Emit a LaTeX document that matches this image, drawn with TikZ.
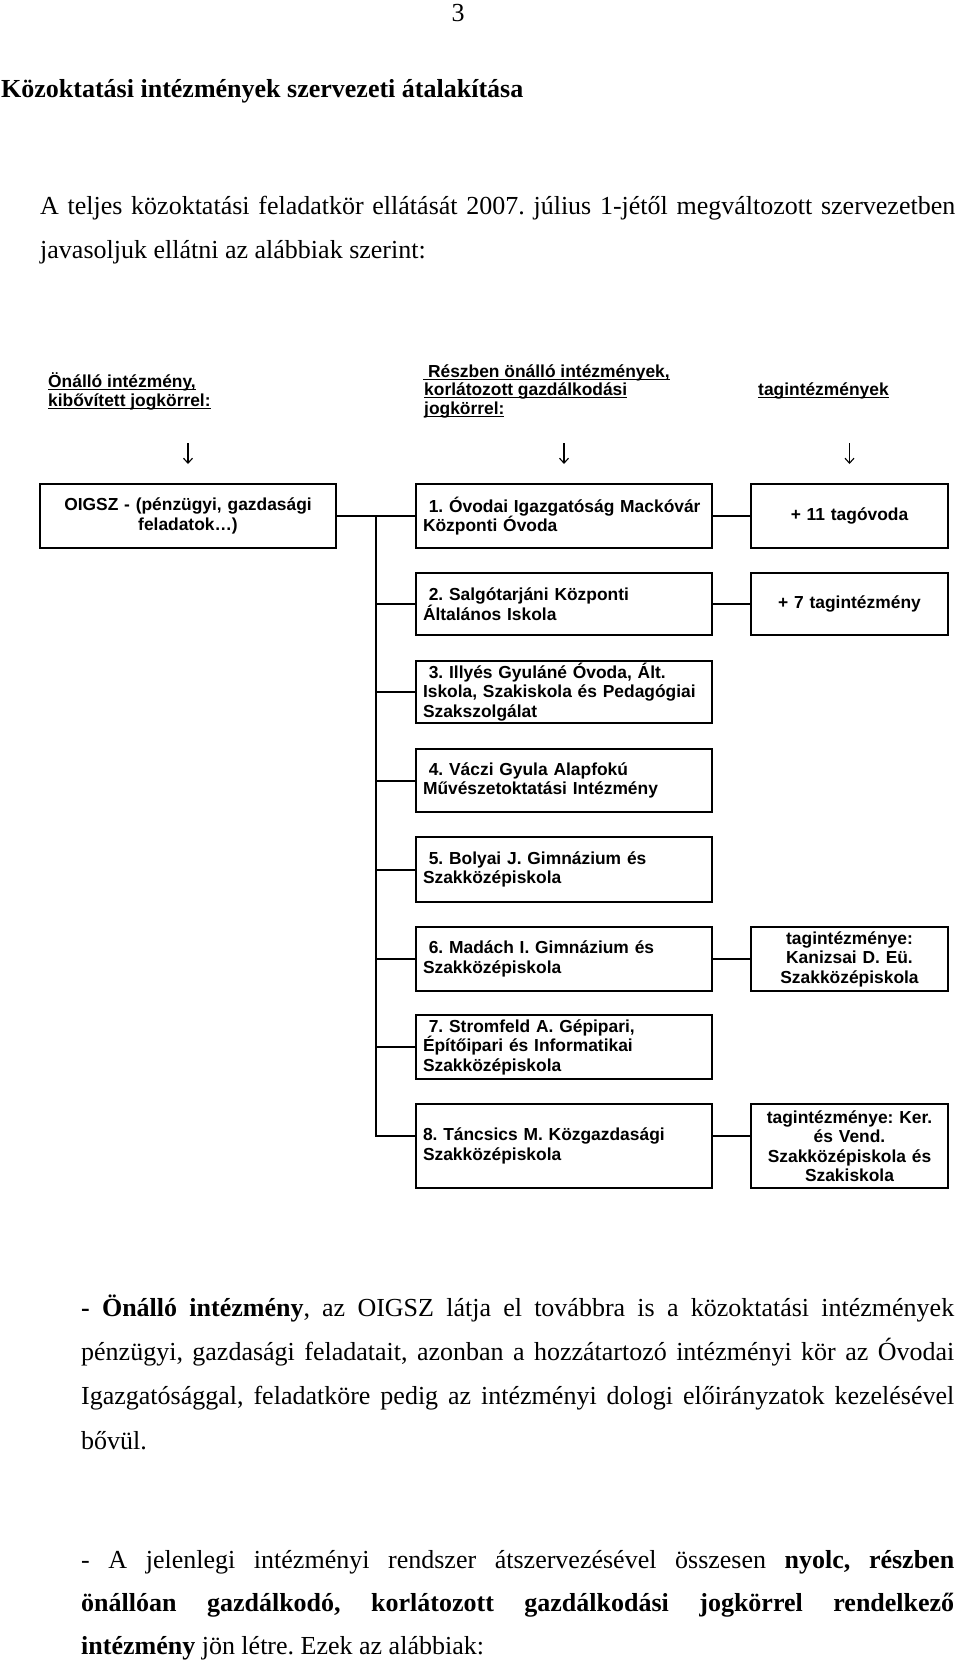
\documentclass[tikz,border=0pt]{standalone}
\usepackage{fontspec}
\setmainfont{Liberation Serif}
\newfontfamily\arialf{Liberation Sans}
\usetikzlibrary{arrows.meta,calc}
\newcommand\ulx[1]{\setbox0=\hbox{#1}\rlap{\rule[-3pt]{\wd0}{1.5pt}}\box0}
\newcommand\bl[1]{\mbox{#1}}
\begin{document}
\frenchspacing
\begin{tikzpicture}[x=1pt, y=-1pt,
  every node/.style={inner sep=0pt},
  chart/.style={font=\arialf\bfseries\fontsize{17.4}{19.5}\selectfont},
  boxs/.style={chart, draw, line width=2pt},
  midbox/.style={boxs, text width=282pt, inner xsep=7pt, inner ysep=0pt, align=left, minimum width=296pt},
  sidebox/.style={boxs, text width=189pt, inner xsep=4pt, inner ysep=0pt, align=center, minimum width=197pt},
  lbox/.style={boxs, text width=280pt, inner xsep=8pt, inner ysep=0pt, align=center, minimum width=296pt},
  hdr/.style={chart, anchor=base west},
  conn/.style={line width=2pt},
  arr/.style={line width=1.1pt, -{Straight Barb[length=5pt,width=9pt]}},
  body/.style={font=\fontsize{26}{30}\selectfont, anchor=base west},
  bodyb/.style={font=\bfseries\fontsize{26}{30}\selectfont, anchor=base west}
]
\fill[white] (0,0) rectangle (960,1667);
\useasboundingbox (0,0) rectangle (960,1667);

% top text
\node[body, anchor=base] (pnum) at (458,22) {3};
\node[bodyb] (title) at (1,98) {Közoktatási intézmények szervezeti átalakítása};
\node[body] (p0a) at (40,214) {\makebox[915pt][s]{A teljes közoktatási feladatkör ellátását 2007. július 1-jétől megváltozott szervezetben}};
\node[body] (p0b) at (40,258) {javasoljuk ellátni az alábbiak szerint:};

% headers
\node[hdr] (h1a) at (48,387) {\ulx{Önálló intézmény,}};
\node[hdr] (h1b) at (48,406) {\ulx{kibővített jogkörrel:}};
\node[hdr] (h2a) at (423,377) {\ulx{\ Részben önálló intézmények,}};
\node[hdr] (h2b) at (424,395) {\ulx{korlátozott gazdálkodási}};
\node[hdr] (h2c) at (424,414) {\ulx{jogkörrel:}};
\node[hdr] (h3) at (758,395) {\ulx{tagintézmények}};

% boxes
\node[lbox, minimum height=64pt] (oigsz) at (188,516) {OIGSZ - (pénzügyi, gazdasági\\feladatok…)};
\node[midbox, minimum height=64pt] (b1) at (564,516) {\bl{\ 1. Óvodai Igazgatóság Mackóvár}\\\bl{Központi Óvoda}};
\node[midbox, minimum height=62pt] (b2) at (564,604) {\bl{\ 2. Salgótarjáni Központi}\\\bl{Általános Iskola}};
\node[midbox, minimum height=62pt] (b3) at (564,692) {\bl{\ 3. Illyés Gyuláné Óvoda, Ált.}\\\bl{Iskola, Szakiskola és Pedagógiai}\\\bl{Szakszolgálat}};
\node[midbox, minimum height=63pt] (b4) at (564,780.5) {\bl{\ 4. Váczi Gyula Alapfokú}\\\bl{Művészetoktatási Intézmény}};
\node[midbox, minimum height=65pt] (b5) at (564,869.5) {\bl{\ 5. Bolyai J. Gimnázium és}\\\bl{Szakközépiskola}};
\node[midbox, minimum height=64pt] (b6) at (564,959) {\bl{\ 6. Madách I. Gimnázium és}\\\bl{Szakközépiskola}};
\node[midbox, minimum height=64pt] (b7) at (564,1047) {\bl{\ 7. Stromfeld A. Gépipari,}\\\bl{Építőipari és Informatikai}\\\bl{Szakközépiskola}};
\node[midbox, minimum height=84pt] (b8) at (564,1146) {\bl{8. Táncsics M. Közgazdasági}\\\bl{Szakközépiskola}};

\node[sidebox, minimum height=64pt] (r1) at (849.5,516) {+ 11 tagóvoda};
\node[sidebox, minimum height=62pt] (r2) at (849.5,604) {+ 7 tagintézmény};
\node[sidebox, minimum height=64pt] (r6) at (849.5,959) {tagintézménye:\\Kanizsai D. Eü.\\Szakközépiskola};
\node[sidebox, minimum height=84pt] (r8) at (849.5,1146) {tagintézménye: Ker.\\és Vend.\\Szakközépiskola és\\Szakiskola};

% arrows
\coordinate (a1) at (188,443);
\coordinate (a2) at (564,443);
\coordinate (a3) at (849.5,443);
\draw[arr] (a1) -- ([yshift=19pt]oigsz.north);
\draw[arr] (a2) -- ([yshift=19pt]b1.north);
\draw[arr] (a3) -- ([yshift=19pt]r1.north);

% connectors
\coordinate (t1) at ($(oigsz.east)!0.5!(b1.west)$);
\coordinate (b8c) at ([yshift=10pt]b8.west);
\draw[conn] (oigsz.east) -- (b1.west);
\draw[conn] (t1) |- (b8c);
\foreach \n in {b2,b3,b4,b5,b6,b7} \draw[conn] (t1 |- \n.west) -- (\n.west);
\draw[conn] (b1.east) -- (r1.west);
\draw[conn] (b2.east) -- (r2.west);
\draw[conn] (b6.east) -- (r6.west);
\draw[conn] ([yshift=10pt]b8.east) -- ([yshift=10pt]r8.west);

% bottom paragraphs
\node[body] (q1) at (81,1316) {\makebox[873pt][s]{\textbf{- Önálló intézmény}, az OIGSZ látja el továbbra is a közoktatási intézmények}};
\node[body] (q2) at (81,1360) {\makebox[873pt][s]{pénzügyi, gazdasági feladatait, azonban a hozzátartozó intézményi kör az Óvodai}};
\node[body] (q3) at (81,1404) {\makebox[873pt][s]{Igazgatósággal, feladatköre pedig az intézményi dologi előirányzatok kezelésével}};
\node[body] (q4) at (81,1449) {bővül.};
\node[body] (s1) at (81,1568) {\makebox[873pt][s]{- A jelenlegi intézményi rendszer átszervezésével összesen \textbf{nyolc, részben}}};
\node[body] (s2) at (81,1611) {\makebox[873pt][s]{\textbf{önállóan gazdálkodó, korlátozott gazdálkodási jogkörrel rendelkező}}};
\node[body] (s3) at (81,1654) {\textbf{intézmény} jön létre. Ezek az alábbiak:};
\end{tikzpicture}
\end{document}
